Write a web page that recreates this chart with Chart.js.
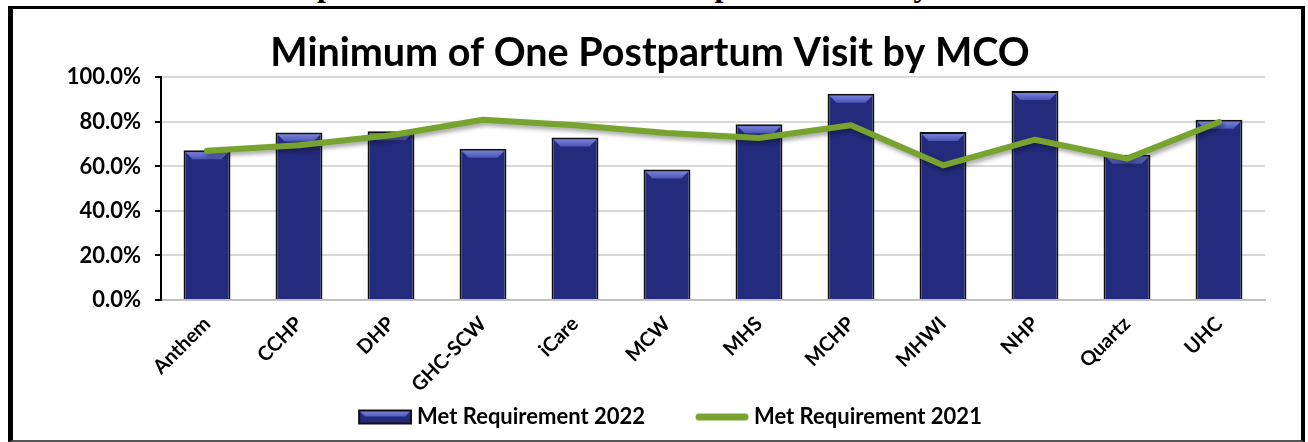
<!DOCTYPE html>
<html>
<head>
<meta charset="utf-8">
<script src="https://cdn.jsdelivr.net/npm/chart.js@4.4.0/dist/chart.umd.min.js"></script>
<style>
  html, body { margin:0; padding:0; background:#fff; width:1308px; height:442px; overflow:hidden; }
  #wrap { position:relative; width:1308px; height:442px; }
  #c { position:absolute; left:0; top:0; }
  #frame { position:absolute; left:8px; top:6px; width:1288px; height:431px;
           border-left:5px solid #000; border-top:3px solid #000; border-right:4px solid #000; border-bottom:2px solid #555;
           pointer-events:none; }
  #cap { position:absolute; left:262px; top:-31px; font:bold 32px "Liberation Serif", "Times New Roman", serif; line-height:32px; white-space:nowrap; color:#000; }
</style>
</head>
<body>
<div id="wrap">
  <div id="cap">Graph 18: Minimum of One Postpartum Visit by MCO</div>
  <canvas id="c" width="1308" height="442"></canvas>
  <div id="frame"></div>
</div>
<script>
const chartTitle = 'Minimum of One Postpartum Visit by MCO';
const categories = ['Anthem','CCHP','DHP','GHC-SCW','iCare','MCW','MHS','MCHP','MHWI','NHP','Quartz','UHC'];
const metRequirement2022 = [67.3, 75.2, 75.8, 68.0, 73.0, 58.6, 78.9, 92.7, 75.5, 93.9, 65.3, 81.0];
const metRequirement2021 = [67.0, 69.5, 74.0, 81.0, 78.5, 75.0, 72.8, 78.5, 60.5, 72.0, 63.5, 80.0];
const seriesNames = ['Met Requirement 2022', 'Met Requirement 2021'];

const FONT = 'Lato, Carlito, Calibri, "Open Sans", sans-serif';
const NAVY = '#232B7C';
const GREEN = '#77A32E';

// legend swatch canvases: 100px wide, the visible swatch sits in the right 54px
function makeSwatch(draw) {
  const cv = document.createElement('canvas');
  cv.width = 100; cv.height = 17;
  draw(cv.getContext('2d'), 46, 54, 15);
  return cv;
}
const swatches = [
  makeSwatch((g, x0, w, h) => {
    g.fillStyle = '#111'; g.fillRect(x0, 1, w, h);
    g.fillStyle = NAVY; g.fillRect(x0 + 2, 3, w - 4, h - 4);
    const grd = g.createLinearGradient(0, 3, 0, 9);
    grd.addColorStop(0, '#7680dc'); grd.addColorStop(1, '#4b55b4');
    g.fillStyle = grd;
    g.beginPath(); g.moveTo(x0 + 2, 3); g.lineTo(x0 + w - 2, 3); g.lineTo(x0 + w - 7, 8); g.lineTo(x0 + 7, 8); g.closePath(); g.fill();
  }),
  makeSwatch((g, x0, w, h) => {
    g.strokeStyle = GREEN; g.lineWidth = 7; g.lineCap = 'round';
    g.beginPath(); g.moveTo(x0 + 4, 8.5); g.lineTo(x0 + w - 4, 8.5); g.stroke();
  })
];

const bevelPlugin = {
  id: 'bevel',
  beforeDatasetDraw(chart, args) {
    if (args.meta.type === 'line') {
      const ctx = chart.ctx;
      ctx.save();
      ctx.shadowColor = 'rgba(0,0,0,0.35)';
      ctx.shadowBlur = 4;
      ctx.shadowOffsetX = 2;
      ctx.shadowOffsetY = 3;
    }
  },
  afterDatasetDraw(chart, args) {
    const ctx = chart.ctx;
    if (args.meta.type === 'line') { ctx.restore(); return; }
    if (args.meta.type !== 'bar') return;
    ctx.save();
    args.meta.data.forEach(el => {
      const p = el.getProps(['x','y','width','base'], true);
      const l = p.x - p.width/2 + 2, r = p.x + p.width/2 - 2, t = p.y + 2, d = 7;
      const grd = ctx.createLinearGradient(0, t, 0, t + d);
      grd.addColorStop(0, '#7680dc'); grd.addColorStop(1, '#4b55b4');
      ctx.fillStyle = grd;
      ctx.beginPath();
      ctx.moveTo(l, t); ctx.lineTo(r, t); ctx.lineTo(r - d, t + d); ctx.lineTo(l + d, t + d); ctx.closePath();
      ctx.fill();
    });
    ctx.restore();
  }
};

const PAD_LEFT = 35;
const PAD_BOTTOM = 4;
const PLOT_LEFT = 161;
const PLOT_BOTTOM = 300;

new Chart(document.getElementById('c'), {
  data: {
    labels: categories,
    datasets: [
      { type:'line', label: seriesNames[1], data: metRequirement2021, borderColor: GREEN, backgroundColor: GREEN,
        borderWidth: 6, pointRadius: 0, tension: 0, borderCapStyle:'round', borderJoinStyle:'round', order: 0 },
      { type:'bar', label: seriesNames[0], data: metRequirement2022, backgroundColor: NAVY, borderColor: '#111',
        borderWidth: 2, barPercentage: 0.51, categoryPercentage: 1.0, order: 1 }
    ]
  },
  options: {
    responsive: false,
    animation: false,
    devicePixelRatio: 1,
    layout: { padding: { left: PAD_LEFT, right: 43, top: 0, bottom: PAD_BOTTOM } },
    plugins: {
      title: { display: true, text: chartTitle, color: '#000',
               font: { family: FONT, size: 39.5, weight: 'bold' }, padding: { top: 30, bottom: 0 } },
      legend: {
        position: 'bottom',
        labels: {
          usePointStyle: true, pointStyleWidth: 88, boxHeight: 15, padding: 10,
          color: '#000', font: { family: FONT, size: 22, weight: 'bold' },
          generateLabels(chart) {
            return [
              { text: seriesNames[0], pointStyle: swatches[0], datasetIndex: 1, fillStyle: NAVY, strokeStyle: '#111', lineWidth: 0 },
              { text: seriesNames[1], pointStyle: swatches[1], datasetIndex: 0, fillStyle: GREEN, strokeStyle: GREEN, lineWidth: 0 }
            ];
          }
        }
      },
      tooltip: { enabled: false }
    },
    scales: {
      x: {
        grid: { display: false },
        border: { display: true, color: '#bfbfbf', width: 2 },
        ticks: { color: '#000', font: { family: FONT, size: 20, weight: 'bold' }, maxRotation: 45, minRotation: 45, padding: 4, autoSkip: false },
        afterFit(scale) {
          const lh = (scale.chart.legend && scale.chart.legend.height) || 46;
          scale.height = scale.chart.height - PAD_BOTTOM - lh - PLOT_BOTTOM;
        }
      },
      y: {
        min: 0, max: 100,
        ticks: { stepSize: 10, color: '#000', padding: 14, font: { family: FONT, size: 22, weight: 'bold' },
                 callback: v => (v % 20 === 0 ? v.toFixed(1) + '%' : '') },
        grid: { color: ctx => (ctx.tick && ctx.tick.value % 20 === 0 && ctx.tick.value !== 0 ? '#d9d9d9' : 'rgba(0,0,0,0)'),
                tickColor: '#000', lineWidth: 2, tickLength: 6, drawTicks: true },
        border: { display: true, color: '#000', width: 2 },
        afterFit(scale) { scale.width = PLOT_LEFT - PAD_LEFT; }
      }
    }
  },
  plugins: [bevelPlugin]
});
</script>
</body>
</html>
